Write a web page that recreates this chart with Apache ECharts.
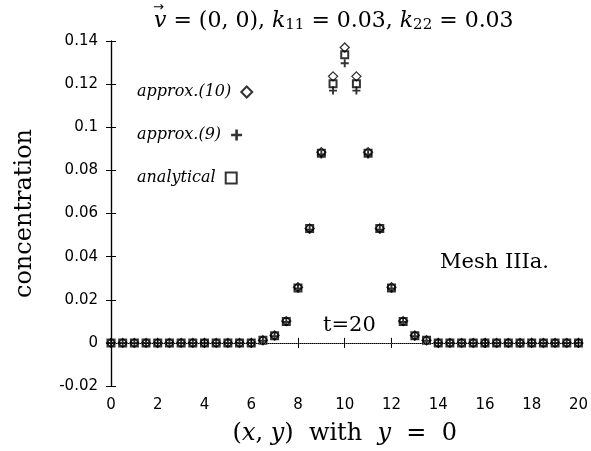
<!DOCTYPE html>
<html lang="en">
<head>
    <meta charset="utf-8">
    <title>concentration t=20</title>
    <script src="https://cdn.jsdelivr.net/npm/echarts@6/dist/echarts.min.js"></script>
</head>
<body style="margin:0;">
    <div id="main" style="width:591px;height:451px;"></div>

    <script type="text/javascript">

    // x positions along y = 0
    var xs = [0, 0.5, 1, 1.5, 2, 2.5, 3, 3.5, 4, 4.5, 5, 5.5, 6, 6.5, 7, 7.5, 8, 8.5, 9, 9.5,
              10, 10.5, 11, 11.5, 12, 12.5, 13, 13.5, 14, 14.5, 15, 15.5, 16, 16.5, 17, 17.5, 18, 18.5, 19, 19.5, 20];

    // approx.(10)
    var approx10 = [0, 0, 0, 0, 0, 0, 0, 0, 0, 0, 0, 0, 0, 0.0012, 0.0034, 0.0101, 0.0258, 0.0531, 0.0884, 0.1236,
                    0.1370, 0.1236, 0.0884, 0.0531, 0.0258, 0.0101, 0.0034, 0.0012, 0, 0, 0, 0, 0, 0, 0, 0, 0, 0, 0, 0, 0];
    // approx.(9)
    var approx9 = [0, 0, 0, 0, 0, 0, 0, 0, 0, 0, 0, 0, 0, 0.0010, 0.0031, 0.0097, 0.0252, 0.0525, 0.0874, 0.1170,
                   0.1297, 0.1170, 0.0874, 0.0525, 0.0252, 0.0097, 0.0031, 0.0010, 0, 0, 0, 0, 0, 0, 0, 0, 0, 0, 0, 0, 0];
    // analytical
    var analytical = [0, 0, 0, 0, 0, 0, 0, 0, 0, 0, 0, 0, 0, 0.0012, 0.0033, 0.0099, 0.0255, 0.0530, 0.0880, 0.1202,
                      0.1336, 0.1202, 0.0880, 0.0530, 0.0255, 0.0099, 0.0033, 0.0012, 0, 0, 0, 0, 0, 0, 0, 0, 0, 0, 0, 0, 0];

    var names = ['approx.(10)', 'approx.(9)', 'analytical'];

    function pairs(vals) {
        return xs.map(function (x, i) { return [x, vals[i]]; });
    }

    var serif = '"DejaVu Serif", "Liberation Serif", serif';
    var sans = '"DejaVu Sans", "Liberation Sans", sans-serif';
    var clear = 'rgba(0,0,0,0)';

    // one legend box per entry so that each mark follows its own text
    var legendTops = [79, 122, 165];
    var legends = names.map(function (n, i) {
        return {
            left: 132,
            top: legendTops[i],
            align: 'right',
            itemWidth: 11,
            itemHeight: 11,
            textStyle: {
                fontFamily: serif,
                fontSize: 16,
                fontStyle: 'italic',
                color: '#000',
                padding: [0, 5, 0, 0]
            },
            data: [n]
        };
    });

    var myChart = echarts.init(document.getElementById('main'));

    myChart.setOption({
        animation: false,
        backgroundColor: '#fff',
        title: {
            text: '{i|v} = (0, 0), {i|k}{s|11} = 0.03, {i|k}{s|22} = 0.03',
            left: 149,
            top: 5,
            textStyle: {
                fontFamily: serif,
                fontSize: 22,
                fontWeight: 'normal',
                color: '#000',
                rich: {
                    i: { fontFamily: serif, fontSize: 22, fontStyle: 'italic', color: '#000' },
                    s: { fontFamily: serif, fontSize: 15, color: '#000', verticalAlign: 'bottom', padding: [8, 0, 0, 0] }
                }
            }
        },
        legend: legends,
        grid: { left: 111, right: 9, top: 41, bottom: 59 },
        xAxis: [{
            type: 'value',
            min: 0, max: 20, interval: 2,
            name: '({i|x}, {i|y})  with  {i|y}  =  0',
            nameLocation: 'middle',
            nameGap: 36,
            nameTextStyle: {
                fontFamily: serif, fontSize: 24, color: '#000',
                rich: { i: { fontFamily: serif, fontSize: 24, fontStyle: 'italic', color: '#000' } }
            },
            axisLine: { lineStyle: { color: '#000', width: 1.2 } },
            axisTick: { inside: true, length: 5, lineStyle: { color: '#000' } },
            axisLabel: { fontFamily: sans, fontSize: 15, color: '#000', margin: 12 },
            splitLine: { show: false }
        }, {
            type: 'value', position: 'top',
            min: 0, max: 20, interval: 2,
            axisLine: { lineStyle: { color: '#000', width: 1.2 } },
            axisTick: { inside: true, length: 5, lineStyle: { color: '#000' } },
            axisLabel: { show: false },
            splitLine: { show: false }
        }],
        yAxis: [{
            type: 'value',
            min: -0.02, max: 0.14, interval: 0.02,
            name: 'concentration',
            nameLocation: 'middle',
            nameGap: 74,
            nameTextStyle: { fontFamily: serif, fontSize: 24, color: '#000' },
            axisLine: { show: true, lineStyle: { color: '#000', width: 1.2 } },
            axisTick: { show: true, inside: true, length: 5, lineStyle: { color: '#000' } },
            axisLabel: { fontFamily: sans, fontSize: 15, color: '#000', margin: 13 },
            splitLine: { show: false }
        }, {
            type: 'value', position: 'right',
            min: -0.02, max: 0.14, interval: 0.02,
            axisLine: { show: true, lineStyle: { color: '#000', width: 1.2 } },
            axisTick: { show: true, inside: true, length: 5, lineStyle: { color: '#000' } },
            axisLabel: { show: false },
            splitLine: { show: false }
        }],
        graphic: [{
            // arrow over the v of the title
            type: 'text', left: 153, top: 1,
            style: { text: '\u2192', fontFamily: sans, fontSize: 13, fill: '#000' }
        }, {
            type: 'text', left: 440, top: 252,
            style: { text: 'Mesh IIIa.', fontFamily: serif, fontSize: 21, fill: '#000' }
        }, {
            type: 'text', left: 323, top: 315,
            style: { text: 't=20', fontFamily: serif, fontSize: 21, fill: '#000' }
        }],
        series: [{
            name: 'analytical',
            type: 'scatter',
            symbol: 'rect',
            symbolSize: 7,
            itemStyle: { color: clear, borderColor: '#000', borderWidth: 2 },
            data: pairs(analytical),
            markLine: {
                silent: true,
                symbol: 'none',
                label: { show: false },
                lineStyle: { color: '#555', type: 'dotted', width: 1 },
                data: [{ yAxis: 0 }]
            },
            z: 3
        }, {
            name: 'approx.(10)',
            type: 'scatter',
            symbol: 'diamond',
            symbolSize: 9,
            itemStyle: { color: clear, borderColor: '#000', borderWidth: 1.3 },
            data: pairs(approx10),
            z: 4
        }, {
            name: 'approx.(9)',
            type: 'scatter',
            symbol: 'path://M3.8,0H6.2V3.8H10V6.2H6.2V10H3.8V6.2H0V3.8H3.8Z',
            symbolSize: 8,
            itemStyle: { color: '#000' },
            data: pairs(approx9),
            z: 5
        }]
    });

    </script>
</body>
</html>
